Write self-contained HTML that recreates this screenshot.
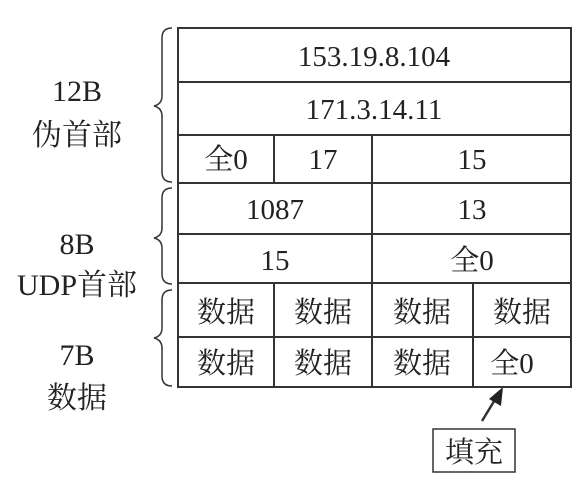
<!DOCTYPE html>
<html><head><meta charset="utf-8"><style>
body{margin:0;background:#fff}
svg text{font-family:"Liberation Serif","Noto Serif CJK SC",serif;fill:#222;font-size:29px}
svg text.l{font-size:30px}
</style></head><body>
<svg width="587" height="477" viewBox="0 0 587 477" xmlns="http://www.w3.org/2000/svg">
<g stroke="#333" stroke-width="2" fill="none">
<rect x="178" y="28" width="393" height="359"/>
<line x1="178" y1="82" x2="571" y2="82"/>
<line x1="178" y1="135" x2="571" y2="135"/>
<line x1="178" y1="183" x2="571" y2="183"/>
<line x1="178" y1="234" x2="571" y2="234"/>
<line x1="178" y1="283" x2="571" y2="283"/>
<line x1="178" y1="337" x2="571" y2="337"/>
<line x1="274" y1="135" x2="274" y2="183"/>
<line x1="274" y1="283" x2="274" y2="387"/>
<line x1="372" y1="135" x2="372" y2="387"/>
<line x1="473" y1="283" x2="473" y2="387"/>
<path d="M172 28 Q162 28 162 38 L162 96 Q162 104 154 106 Q162 108 162 116 L162 172 Q162 182 172 182" stroke-width="1.5"/>
<path d="M172 188 Q162 188 162 198 L162 228 Q162 236 154 238 Q162 240 162 248 L162 274 Q162 284 172 284" stroke-width="1.5"/>
<path d="M172 290 Q162 290 162 300 L162 328 Q162 336 154 338 Q162 340 162 348 L162 376 Q162 386 172 386" stroke-width="1.5"/>
<line x1="482" y1="421" x2="496" y2="398" stroke-width="2.5"/>
<rect x="433" y="429" width="82" height="43" stroke-width="1.5"/>
</g>
<polygon points="503,387 501,406 489,399" fill="#222"/>
<g text-anchor="middle">
<text x="374" y="66">153.19.8.104</text>
<text x="374" y="119">171.3.14.11</text>
<text x="226" y="169">全0</text>
<text x="323" y="169">17</text>
<text x="472" y="169">15</text>
<text x="275" y="219">1087</text>
<text x="472" y="219">13</text>
<text x="275" y="270">15</text>
<text x="472" y="270">全0</text>
<text x="226" y="322">数据</text>
<text x="323" y="322">数据</text>
<text x="422" y="322">数据</text>
<text x="522" y="322">数据</text>
<text x="226" y="373">数据</text>
<text x="323" y="373">数据</text>
<text x="422" y="373">数据</text>
<text x="512" y="373">全0</text>
<text x="474" y="462">填充</text>
<text class="l" x="77" y="101">12B</text>
<text class="l" x="77" y="145">伪首部</text>
<text class="l" x="77" y="254">8B</text>
<text class="l" x="77" y="295">UDP首部</text>
<text class="l" x="77" y="365">7B</text>
<text class="l" x="77" y="408">数据</text>
</g>
</svg>
</body></html>
